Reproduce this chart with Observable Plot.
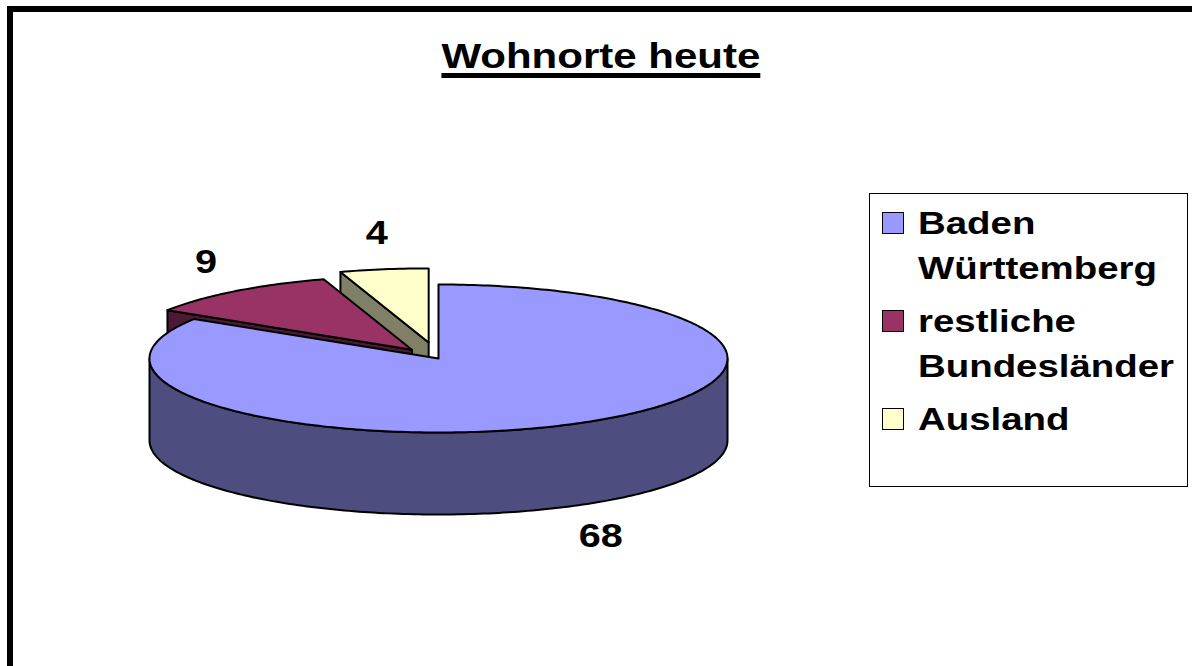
<!DOCTYPE html>
<html>
<head>
<meta charset="utf-8">
<script src="https://cdn.jsdelivr.net/npm/d3@7"></script>
<script src="https://cdn.jsdelivr.net/npm/@observablehq/plot@0.6"></script>
<style>
html, body { margin: 0; padding: 0; background: #fff; }
#page { position: relative; width: 1192px; height: 666px; overflow: hidden; font-family: "Liberation Sans", Arial, sans-serif; }
#frame { position: absolute; left: 7px; top: 6px; width: 1400px; height: 900px; border: 6px solid #000; box-sizing: border-box; }
#chart { position: absolute; left: 0; top: 0; }
#title { position: absolute; left: 5px; width: 1192px; top: 38px; text-align: center; font-size: 35px; line-height: 35px; font-weight: bold; color: #000; }
#title span { display: inline-block; transform: scaleX(1.2); text-decoration: underline; text-decoration-thickness: 5px; text-underline-offset: 5px; }
#legend { position: absolute; left: 869px; top: 193px; width: 319px; height: 294px; border: 1.5px solid #000; box-sizing: border-box; background: #fff; padding-top: 7px; display: flex; flex-direction: column; gap: 9px; }
.item { display: flex; flex-direction: row; align-items: flex-start; }
.sw { flex: none; width: 22px; height: 22px; border: 1.5px solid #000; box-sizing: border-box; margin-top: 10.5px; margin-left: 11.5px; }
.lab { flex: none; margin-left: 14px; width: 215px; font-size: 32px; line-height: 44.5px; font-weight: bold; color: #000; transform: scaleX(1.2); transform-origin: 0 0; }
</style>
</head>
<body>
<div id="page">
  <div id="frame"></div>
  <div id="chart"></div>
  <div id="title"><span>Wohnorte heute</span></div>
  <div id="legend"></div>
</div>
<script>
// ---- data ----
const titleText = "Wohnorte heute";
const categories = ["Baden Württemberg", "restliche Bundesländer", "Ausland"];
const values = [68, 9, 4];
const valueLabels = values.map(String);

// ---- styles / layout ----
const topColors = ["#9999FF", "#993366", "#FFFFCC"];
const sideColors = ["#4D4D80", "#4D1A33", "#808066"];
const explodeFrac = [0, 0.15, 0.22];
const G = { cx: 438, cy: 358, rx: 289, ry: 74, depth: 82, gapX: 47, gapY: 36 };
const STRETCH = 1.2;

const arcs = d3.pie().sort(null).value(d => d)(values);
function pt(c, a, dy = 0) { return { x: c.x + G.rx * Math.sin(a), y: c.y - G.ry * Math.cos(a) + dy }; }
function arcPts(c, a0, a1, dy = 0) {
  const n = Math.max(2, Math.ceil(Math.abs(a1 - a0) / (Math.PI / 180)));
  return d3.range(n + 1).map(k => pt(c, a0 + (a1 - a0) * k / n, dy));
}

const slices = arcs.map((a, i) => {
  const mid = (a.startAngle + a.endAngle) / 2;
  const e = explodeFrac[i];
  const c = { x: G.cx + e * G.rx * Math.sin(mid), y: G.cy - e * G.ry * Math.cos(mid) };
  return { i, a0: a.startAngle, a1: a.endAngle, mid, c };
});

// back-to-front painter order
const order = slices.slice().sort((p, q) => (-Math.cos(p.mid)) - (-Math.cos(q.mid)));
const D = G.depth;
const marks = [];
const edge = { x: "x", y: "y", curve: "linear-closed", stroke: "#000", strokeWidth: 2, strokeLinejoin: "round" };
for (const s of order) {
  const polys = [];
  if (Math.sin(s.a0) < -1e-6) {
    const p = pt(s.c, s.a0);
    polys.push([s.c, p, { x: p.x, y: p.y + D }, { x: s.c.x, y: s.c.y + D }]);
  }
  if (Math.sin(s.a1) > 1e-6) {
    const p = pt(s.c, s.a1);
    polys.push([s.c, p, { x: p.x, y: p.y + D }, { x: s.c.x, y: s.c.y + D }]);
  }
  const lo = Math.max(s.a0, Math.PI / 2), hi = Math.min(s.a1, 3 * Math.PI / 2);
  if (hi > lo) polys.push([...arcPts(s.c, lo, hi), ...arcPts(s.c, hi, lo, D)]);
  for (const poly of polys) marks.push(Plot.line(poly, { ...edge, fill: sideColors[s.i] }));
  marks.push(Plot.line([s.c, ...arcPts(s.c, s.a0, s.a1)], { ...edge, fill: topColors[s.i] }));
}

const labelData = slices.map(s => {
  const p = pt(s.c, s.mid, Math.cos(s.mid) < 0 ? D : 0);
  return { x: p.x + G.gapX * Math.sin(s.mid), y: p.y - G.gapY * Math.cos(s.mid), text: valueLabels[s.i] };
});

const chart = Plot.plot({
  width: 1192, height: 666, margin: 0,
  x: { domain: [0, 1192], range: [0, 1192], axis: null },
  y: { domain: [0, 666], range: [0, 666], axis: null },
  style: { background: "transparent", overflow: "visible" },
  marks: [
    ...marks,
    Plot.text(labelData, { x: "x", y: "y", text: "text", fontSize: 33, fontWeight: "bold", fontFamily: "Liberation Sans, Arial, sans-serif", textAnchor: "middle", lineAnchor: "middle", fill: "#000" })
  ]
});

// stretch label glyphs horizontally around their anchor
chart.querySelectorAll("text").forEach(t => {
  const tr = t.getAttribute("transform");
  if (tr) {
    t.setAttribute("transform", `${tr} scale(${STRETCH},1)`);
  } else {
    const x = parseFloat(t.getAttribute("x"));
    const y = parseFloat(t.getAttribute("y"));
    if (isFinite(x) && isFinite(y)) {
      t.setAttribute("transform", `translate(${x},${y}) scale(${STRETCH},1)`);
      t.setAttribute("x", 0); t.setAttribute("y", 0);
    }
  }
});
document.getElementById("chart").appendChild(chart);

document.querySelector("#title span").textContent = titleText;
const legend = document.getElementById("legend");
categories.forEach((c, i) => {
  const item = document.createElement("div"); item.className = "item";
  const sw = document.createElement("div"); sw.className = "sw"; sw.style.background = topColors[i];
  const lab = document.createElement("div"); lab.className = "lab"; lab.textContent = c;
  item.appendChild(sw); item.appendChild(lab); legend.appendChild(item);
});
</script>
</body>
</html>
